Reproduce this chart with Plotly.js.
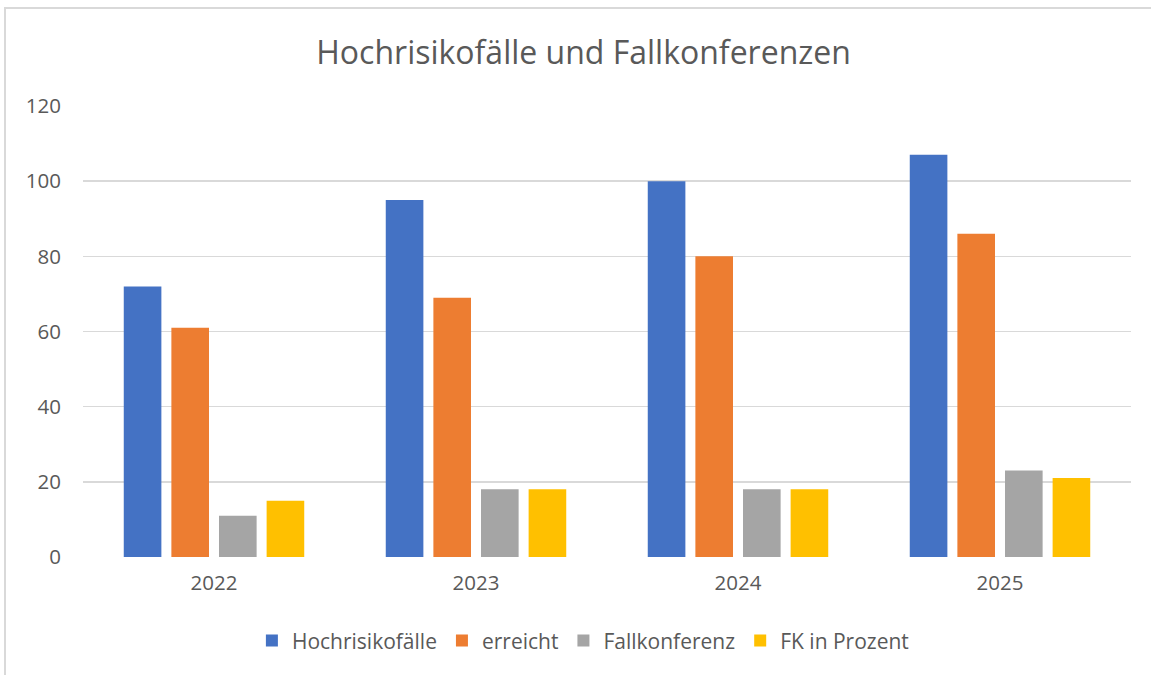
<!DOCTYPE html>
<html>
<head>
<meta charset="utf-8">
<script src="https://cdn.plot.ly/plotly-3.0.1.min.js"></script>
<style>
  html, body { margin: 0; padding: 0; background: #ffffff; overflow: hidden; }
  #wrap { position: relative; width: 1151px; height: 675px; }
  #chart { width: 1151px; height: 675px; }
  #frame { position: absolute; left: 4px; top: 7px; width: 1200px; height: 720px;
           border: 2px solid #D9D9D9; pointer-events: none; box-sizing: border-box; }
</style>
</head>
<body>
<div id="wrap">
  <div id="chart"></div>
  <div id="frame"></div>
</div>
<script>
const categories = ["2022", "2023", "2024", "2025"];
const hochrisikofaelle = [72, 95, 100, 107];
const erreicht = [61, 69, 80, 86];
const fallkonferenz = [11, 18, 18, 23];
const fkInProzent = [15, 18, 18, 21];
const seriesNames = ["Hochrisikofälle", "erreicht", "Fallkonferenz", "FK in Prozent"];
const seriesColors = ["#4472C4", "#ED7D31", "#A5A5A5", "#FFC000"];
const yTicks = [0, 20, 40, 60, 80, 100, 120];

const allSeries = [hochrisikofaelle, erreicht, fallkonferenz, fkInProzent];
const traces = allSeries.map((vals, i) => ({
  type: "bar",
  name: seriesNames[i],
  x: categories,
  y: vals,
  marker: { color: seriesColors[i] },
  hoverinfo: "x+y+name"
}));

const layout = {
  width: 1151,
  height: 675,
  paper_bgcolor: "#ffffff",
  plot_bgcolor: "#ffffff",
  font: { family: "'Open Sans', Lato, sans-serif", color: "#595959", size: 20 },
  title: {
    text: "Hochrisikofälle und Fallkonferenzen",
    font: { family: "'Open Sans', sans-serif", size: 32, color: "#595959" },
    x: 0.507, xanchor: "center",
    y: 0.922, yanchor: "middle"
  },
  margin: { l: 83, r: 20, t: 106, b: 118 },
  barmode: "group",
  bargap: 0.273,
  bargroupgap: 0.21,
  xaxis: {
    type: "category",
    showgrid: false,
    showline: false,
    zeroline: false,
    ticks: "",
    ticklabelstandoff: 11,
    tickfont: { size: 20.5, color: "#595959" }
  },
  yaxis: {
    range: [0, 120],
    tickvals: yTicks,
    ticktext: yTicks.map(String),
    showgrid: true,
    gridcolor: "#D9D9D9",
    gridwidth: 1.5,
    zeroline: false,
    showline: false,
    ticks: "",
    ticklabelstandoff: 21,
    tickfont: { size: 20.5, color: "#595959" }
  },
  legend: {
    orientation: "h",
    x: 0.477, xanchor: "center",
    y: -0.186, yanchor: "middle",
    font: { size: 21, color: "#595959" },
    itemwidth: 30,
    traceorder: "normal"
  },
  showlegend: true
};

Plotly.newPlot("chart", traces, layout, { displayModeBar: false, staticPlot: true });
</script>
</body>
</html>
